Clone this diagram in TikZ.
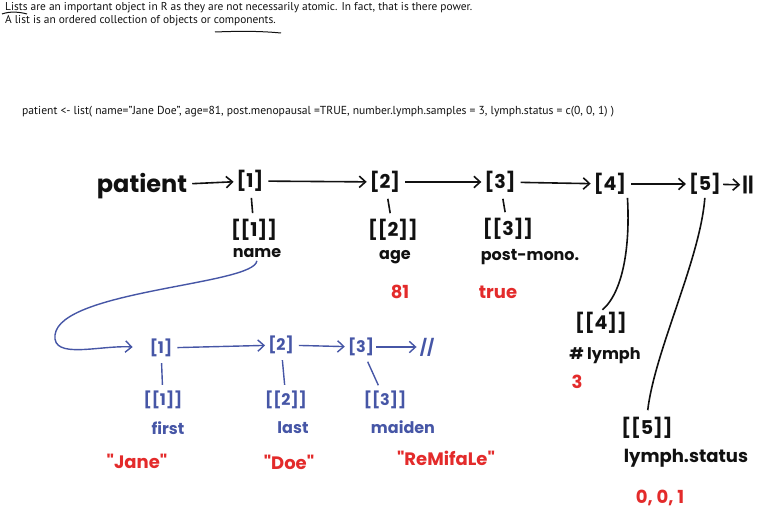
\documentclass[tikz,border=0pt]{standalone}
\usepackage{fontspec}
\setmainfont{PT Sans}
\newfontfamily\handfont{Poppins}
\usetikzlibrary{arrows.meta,positioning}
\definecolor{ink}{HTML}{111111}
\definecolor{penblue}{HTML}{4656A6}
\definecolor{penred}{HTML}{E32B2B}

\begin{document}
\begin{tikzpicture}[x=1pt,y=-1pt,
  txt/.style={font=\fontsize{11.4}{13}\selectfont,anchor=west,inner sep=0pt,text=ink},
  hw/.style={font=\handfont\fontsize{19}{21}\selectfont\bfseries,text=ink,inner sep=1pt},
  lbl/.style={hw,font=\handfont\fontsize{16}{18}\selectfont\bfseries},
  hb/.style={hw,text=penblue,font=\handfont\fontsize{16}{18}\selectfont\bfseries},
  hr/.style={hw,text=penred,font=\handfont\fontsize{18}{20}\selectfont\bfseries},
  arr/.style={-{Straight Barb[length=2.2mm,width=4mm]},line width=1.6pt,draw=ink,shorten <=4pt,shorten >=2pt},
  barr/.style={arr,draw=penblue,line width=1.4pt},
  tick/.style={line width=1.6pt,draw=ink,shorten <=5pt,shorten >=5pt},
  btick/.style={tick,draw=penblue,line width=1.4pt}]
\useasboundingbox (0,0) rectangle (761,511);
% typed notes
\node[txt] (l1) at (5,8) {Lists are an important object in R as they are not necessarily atomic. In fact, that is there power.};
\node[txt] (l2) at (5,21) {A list is an ordered collection of objects or components.};
\node[txt,font=\fontsize{11.6}{13}\selectfont] (code) at (22,112) {patient <- list( name="Jane Doe", age=81, post.menopausal =TRUE, number.lymph.samples = 3, lymph.status = c(0, 0, 1) )};
\draw[ink,line width=1pt] (2,14) .. controls (10,11) and (20,12) .. (27,14);
\draw[ink,line width=1pt] (215,32) .. controls (240,31) and (260,31) .. (281,33);
% top level list
\node[hw,font=\handfont\fontsize{24}{26}\selectfont\bfseries] (pat) at (142,186) {patient};
\node[hw] (e1) at (250,181) {[1]};
\node[hw] (e2) at (385,182) {[2]};
\node[hw] (e3) at (500,182) {[3]};
\node[hw] (e4) at (610,184) {[4]};
\node[hw] (e5) at (705,184) {[5]};
\node[hw] (eend) at (748,185) {||};
\node[hw] (c1) at (254,230) {[[1]]};
\node[hw] (c2) at (393,230) {[[2]]};
\node[hw] (c3) at (508,229) {[[3]]};
\node[hw] (c4) at (601,323) {[[4]]};
\node[hw] (c5) at (647,428) {[[5]]};
\node[lbl] (n1) at (257,253) {name};
\node[lbl] (n2) at (395,257) {age};
\node[lbl] (n3) at (530,257) {post-mono.};
\node[lbl] (n4) at (605,356) {\# lymph};
\node[lbl,font=\handfont\fontsize{18}{20}\selectfont\bfseries] (n5) at (686,458) {lymph.status};
\node[hr] (v2) at (400,292) {81};
\node[hr] (v3) at (498,292) {true};
\node[hr] (v4) at (577,382) {3};
\node[hr] (v5) at (660,498) {0, 0, 1};
\draw[arr] (pat) -- (e1);
\draw[arr] (e1) -- (e2);
\draw[arr] (e2) -- (e3);
\draw[arr] (e3) -- (e4);
\draw[arr] (e4) -- (e5);
\draw[arr,shorten <=1pt,shorten >=1pt] (e5) -- (eend);
\draw[tick] (e1) -- (c1);
\draw[tick] (e2) -- (c2);
\draw[tick] (e3) -- (c3);
\draw[ink,line width=1.6pt,shorten <=2pt,shorten >=2pt] (e4.south east) .. controls (630,240) and (625,290) .. (c4.north);
\draw[ink,line width=1.6pt,shorten <=2pt,shorten >=6pt] (e5.south) .. controls (700,260) and (655,350) .. (c5.north);
% name sub-list
\node[hb] (b1) at (161,348) {[1]};
\node[hb] (b2) at (281,345) {[2]};
\node[hb] (b3) at (361,347) {[3]};
\node[hb] (bend) at (427,347) {//};
\node[hb] (d1) at (163,400) {[[1]]};
\node[hb] (d2) at (286,400) {[[2]]};
\node[hb] (d3) at (385,400) {[[3]]};
\node[hb] (f1) at (168,428) {first};
\node[hb] (f2) at (293,428) {last};
\node[hb] (f3) at (403,427) {maiden};
\node[hr] (s1) at (137,461) {"Jane"};
\node[hr] (s2) at (289,462) {"Doe"};
\node[hr] (s3) at (446,458) {"ReMifaLe"};
\draw[barr,shorten <=2pt,shorten >=16pt] (n1.south) .. controls (255,285) and (60,290) .. (55,335) .. controls (52,360) and (100,345) .. (b1.west);
\draw[barr] (b1) -- (b2);
\draw[barr] (b2) -- (b3);
\draw[barr,shorten <=1pt] (b3) -- (bend);
\draw[btick] (b1) -- (d1);
\draw[btick] (b2) -- (d2);
\draw[btick] (b3) -- (d3);
\end{tikzpicture}
\end{document}
